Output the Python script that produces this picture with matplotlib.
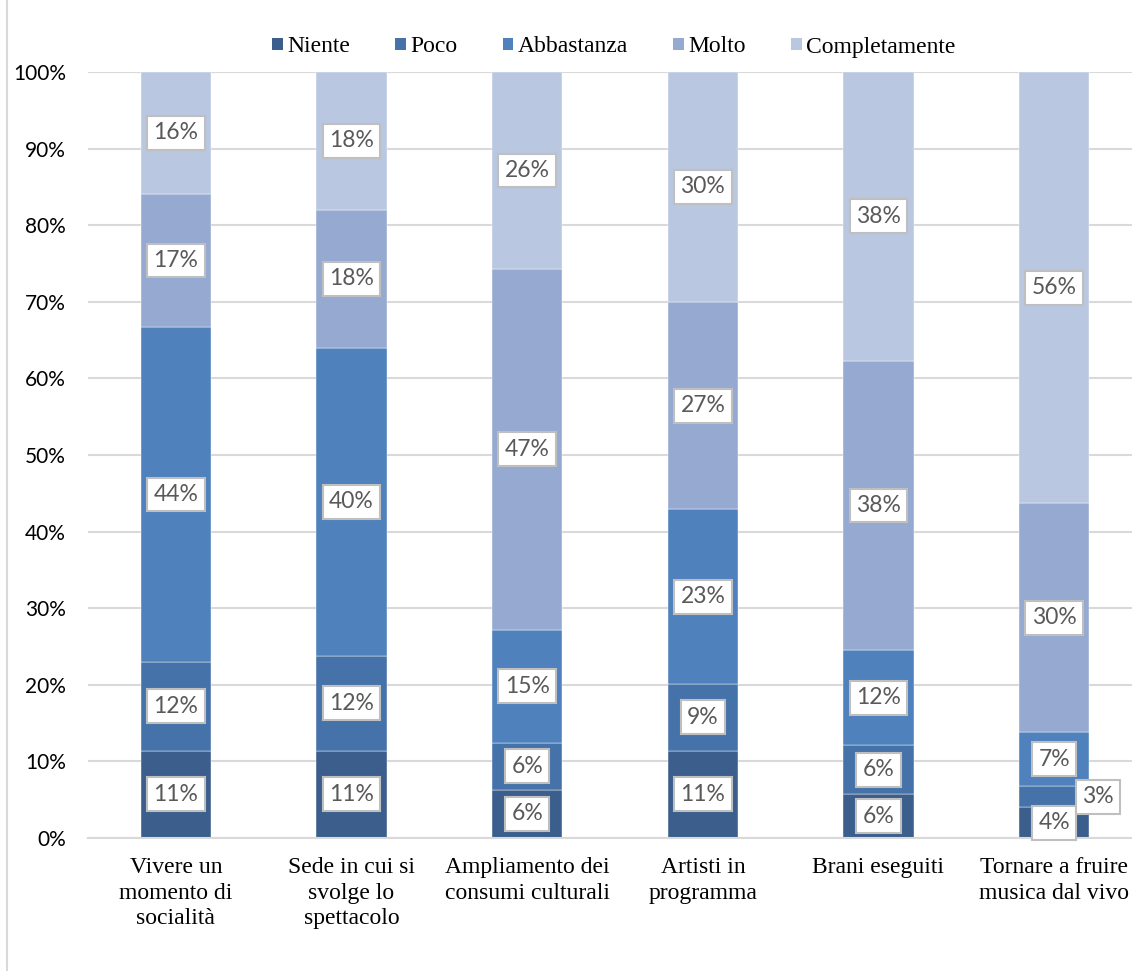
import numpy as np
import matplotlib
matplotlib.use('Agg')
import matplotlib.pyplot as plt
from matplotlib.patches import Patch
from matplotlib.lines import Line2D

#%% Data (percentages)
categories = ["Vivere un\nmomento di\nsocialità",
              "Sede in cui si\nsvolge lo\nspettacolo",
              "Ampliamento dei\nconsumi culturali",
              "Artisti in\nprogramma",
              "Brani eseguiti",
              "Tornare a fruire\nmusica dal vivo"]
series_names = ["Niente", "Poco", "Abbastanza", "Molto", "Completamente"]
niente = [11.4, 11.4, 6.3, 11.4, 5.7, 4.0]
poco = [11.6, 12.4, 6.1, 8.7, 6.4, 2.8]
abbastanza = [43.7, 40.2, 14.8, 22.8, 12.4, 7.0]
molto = [17.4, 18.0, 47.1, 27.1, 37.8, 29.9]
completamente = [15.9, 18.0, 25.7, 30.0, 37.7, 56.3]

colors = ['#3B5E8C', '#4572A8', '#4F81BD', '#95A9D1', '#B9C7E1']
SERIF = 'Liberation Serif'
SANS = 'Lato'

#%% Plot
fig = plt.figure(figsize=(11.32, 9.71), dpi=100)
ax = fig.add_axes([88 / 1132, 133 / 971, 1054 / 1132, 766 / 971])

x = np.arange(len(categories))
series = [niente, poco, abbastanza, molto, completamente]
bottom = np.zeros(len(categories))
for k, vals in enumerate(series):
    vals = np.array(vals)
    ax.bar(x, vals, 0.4, bottom=bottom, color=colors[k], edgecolor='#ffffff',
           linewidth=0.3, zorder=2)
    for i, v in enumerate(vals):
        xc = x[i]
        # the small "Poco" label in the last bar is pushed to the right
        if k == 1 and v < 4:
            xc += 0.25
        ax.text(xc, bottom[i] + v / 2, f"{v:.0f}%", ha='center', va='center',
                fontsize=16.5, family=SANS, color='#595959', zorder=4,
                bbox=dict(boxstyle='square,pad=0.28', fc='white', ec='#BFBFBF', lw=1.5))
    bottom += vals

ax.set_xlim(-0.5, len(categories) - 0.5)
ax.set_ylim(0, 100)
ax.set_yticks(np.arange(0, 101, 10))
ax.set_yticklabels([f"{t}%" for t in range(0, 101, 10)], family=SANS, fontsize=15)
ax.set_xticks(x)
ax.set_xticklabels(categories, family=SERIF, fontsize=17, linespacing=1.3)
ax.tick_params(axis='both', length=0, colors='black')
ax.tick_params(axis='y', pad=16)
ax.tick_params(axis='x', pad=13.5)
ax.grid(axis='y', color='#D9D9D9', linewidth=1.5, zorder=0)
ax.set_axisbelow(True)
for s in ['top', 'right', 'left']:
    ax.spines[s].set_visible(False)
ax.spines['bottom'].set_color('#D9D9D9')
ax.spines['bottom'].set_linewidth(1.5)

handles = [Patch(facecolor=c, edgecolor='none') for c in colors]
fig.legend(handles, series_names, loc='center', bbox_to_anchor=(614 / 1132, 1 - 47 / 971),
           ncol=5, frameon=False, prop={'family': SERIF, 'size': 17},
           handlelength=0.45, handleheight=0.45, handletextpad=0.2, columnspacing=1.9)

# left border of the chart area
fig.add_artist(Line2D([7 / 1132, 7 / 1132], [0, 1], transform=fig.transFigure,
                      color='#D9D9D9', linewidth=1.5))

plt.savefig('out.png', dpi=100)
